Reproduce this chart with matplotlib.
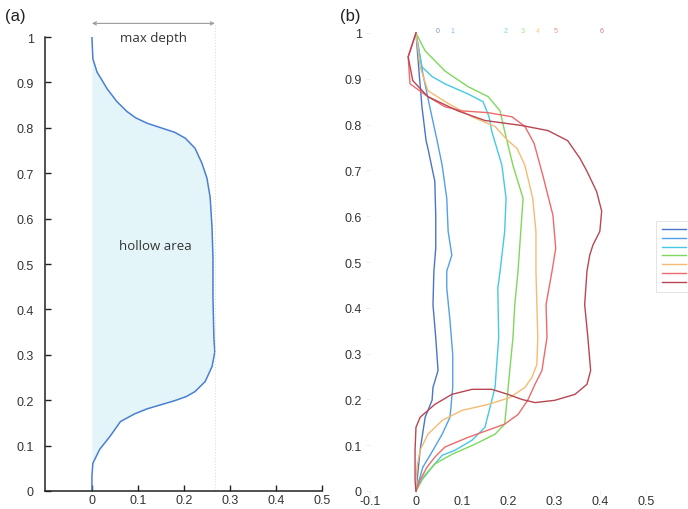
import numpy as np
import matplotlib
matplotlib.use("Agg")
import matplotlib.pyplot as plt

plt.rcParams['font.family'] = ['Liberation Sans', 'DejaVu Sans']

# ---- panel (a): a single hollow profile (depth vs. normalised height) ----
profile_height = [1.0, 0.952, 0.923, 0.886, 0.858, 0.836, 0.822, 0.810, 0.800, 0.790,
                  0.777, 0.755, 0.722, 0.689, 0.646, 0.580, 0.514, 0.427, 0.339, 0.306,
                  0.274, 0.241, 0.219, 0.208, 0.199, 0.190, 0.181, 0.170, 0.153, 0.120,
                  0.092, 0.061, 0.033, 0.0]
profile_depth = [0.0, 0.002, 0.011, 0.033, 0.054, 0.076, 0.095, 0.120, 0.150, 0.180,
                 0.203, 0.224, 0.239, 0.250, 0.257, 0.261, 0.263, 0.263, 0.265, 0.267,
                 0.261, 0.246, 0.224, 0.205, 0.180, 0.150, 0.120, 0.093, 0.062, 0.039,
                 0.017, 0.002, 0.0, 0.0]

# ---- panel (b): profiles 0..6 ----
series_names = ["0", "1", "2", "3", "4", "5", "6"]
series_colors = ["#4a74c9", "#52a0e6", "#46c8e4", "#7fd85c", "#f6bb72", "#ee6a6a", "#b94652"]

depth_0 = [0.0, 0.007, 0.013, 0.022, 0.026, 0.041, 0.043, 0.043, 0.039, 0.037, 0.043,
           0.048, 0.037, 0.035, 0.020, 0.009, 0.0]
height_0 = [1.0, 0.911, 0.839, 0.765, 0.748, 0.676, 0.602, 0.530, 0.480, 0.407, 0.335,
            0.263, 0.226, 0.198, 0.161, 0.089, 0.0]

depth_1 = [0.0, 0.015, 0.030, 0.046, 0.057, 0.067, 0.070, 0.078, 0.067, 0.067, 0.074,
           0.080, 0.080, 0.074, 0.057, 0.037, 0.015, 0.0]
height_1 = [1.0, 0.911, 0.839, 0.765, 0.711, 0.639, 0.567, 0.515, 0.480, 0.443, 0.372,
            0.298, 0.226, 0.161, 0.124, 0.089, 0.052, 0.0]

depth_2 = [0.0, 0.013, 0.035, 0.063, 0.113, 0.146, 0.159, 0.165, 0.187, 0.196, 0.193,
           0.183, 0.178, 0.180, 0.172, 0.150, 0.122, 0.085, 0.057, 0.035, 0.013, 0.0]
height_2 = [1.0, 0.926, 0.905, 0.889, 0.867, 0.850, 0.817, 0.785, 0.711, 0.639, 0.567,
            0.480, 0.443, 0.335, 0.226, 0.139, 0.111, 0.089, 0.078, 0.052, 0.024, 0.0]

depth_3 = [0.0, 0.020, 0.063, 0.113, 0.157, 0.183, 0.193, 0.211, 0.233, 0.228, 0.222,
           0.215, 0.211, 0.204, 0.198, 0.193, 0.172, 0.128, 0.078, 0.041, 0.015, 0.0]
height_3 = [1.0, 0.961, 0.917, 0.883, 0.861, 0.830, 0.785, 0.711, 0.639, 0.567, 0.480,
            0.407, 0.335, 0.263, 0.198, 0.146, 0.124, 0.102, 0.080, 0.059, 0.030, 0.0]

depth_4 = [0.0, 0.009, 0.026, 0.067, 0.122, 0.172, 0.200, 0.220, 0.237, 0.254, 0.261,
           0.261, 0.265, 0.263, 0.252, 0.237, 0.204, 0.157, 0.100, 0.057, 0.026, 0.009,
           0.002, 0.0]
height_4 = [1.0, 0.926, 0.874, 0.848, 0.817, 0.796, 0.765, 0.748, 0.711, 0.639, 0.567,
            0.480, 0.335, 0.276, 0.248, 0.226, 0.204, 0.189, 0.176, 0.154, 0.124, 0.089,
            0.052, 0.0]

depth_5 = [0.0, -0.017, -0.013, 0.026, 0.063, 0.100, 0.157, 0.209, 0.237, 0.257, 0.276,
           0.298, 0.304, 0.296, 0.283, 0.285, 0.274, 0.259, 0.243, 0.222, 0.193, 0.157,
           0.113, 0.063, 0.041, 0.024, 0.009, 0.0]
height_5 = [1.0, 0.948, 0.889, 0.861, 0.839, 0.830, 0.826, 0.817, 0.796, 0.759, 0.689,
            0.602, 0.530, 0.480, 0.407, 0.335, 0.263, 0.233, 0.198, 0.167, 0.146, 0.133,
            0.117, 0.096, 0.074, 0.052, 0.024, 0.0]

depth_6 = [0.0, -0.017, -0.007, 0.026, 0.091, 0.150, 0.230, 0.287, 0.330, 0.357, 0.372,
           0.393, 0.404, 0.400, 0.385, 0.378, 0.372, 0.367, 0.374, 0.380, 0.372, 0.346,
           0.302, 0.259, 0.230, 0.200, 0.165, 0.122, 0.078, 0.041, 0.009, 0.0, -0.002,
           -0.002, 0.0]
height_6 = [1.0, 0.948, 0.896, 0.861, 0.830, 0.809, 0.798, 0.787, 0.765, 0.726, 0.698,
            0.654, 0.611, 0.567, 0.537, 0.515, 0.480, 0.407, 0.335, 0.263, 0.233, 0.211,
            0.198, 0.193, 0.200, 0.211, 0.222, 0.222, 0.211, 0.189, 0.161, 0.139, 0.089,
            0.024, 0.0]

depths = [depth_0, depth_1, depth_2, depth_3, depth_4, depth_5, depth_6]
heights = [height_0, height_1, height_2, height_3, height_4, height_5, height_6]

y_ticks = [0, 0.1, 0.2, 0.3, 0.4, 0.5, 0.6, 0.7, 0.8, 0.9, 1]
y_tick_labels = ["0", "0.1", "0.2", "0.3", "0.4", "0.5", "0.6", "0.7", "0.8", "0.9", "1"]
xa_ticks = [0, 0.1, 0.2, 0.3, 0.4, 0.5]
xa_tick_labels = ["0", "0.1", "0.2", "0.3", "0.4", "0.5"]
xb_ticks = [-0.1, 0, 0.1, 0.2, 0.3, 0.4, 0.5]
xb_tick_labels = ["-0.1", "0", "0.1", "0.2", "0.3", "0.4", "0.5"]

W, H = 688, 510
fig = plt.figure(figsize=(W / 100, H / 100), dpi=100)

text_col = "#333333"

# ================= panel (a) =================
axa = fig.add_axes([45 / W, (H - 492) / H, 277 / W, 454 / H])
axa.set_xlim(-0.102, 0.5)
axa.set_ylim(0, 1)
axa.fill_betweenx(profile_height, 0, profile_depth, color="#e3f5f8", lw=0)
axa.plot(profile_depth, profile_height, color="#4a7fd4", lw=1.1,
         solid_joinstyle="round")

max_depth = max(profile_depth)
axa.plot([max_depth, max_depth], [0, 1.03], color="#dddddd", lw=0.8, ls=":",
         clip_on=False)
axa.annotate("", xy=(0, 1.03), xytext=(max_depth, 1.03),
             arrowprops=dict(arrowstyle="<->", color="#9a9a9a", lw=0.8,
                             shrinkA=0, shrinkB=0, mutation_scale=6),
             annotation_clip=False)
axa.text(max_depth / 2, 1.0, "max depth", ha="center", va="center", fontsize=9.5,
         color=text_col, family=["Open Sans", "DejaVu Sans"])
axa.text(max_depth / 2 + 0.005, 0.54, "hollow area", ha="center", va="center",
         fontsize=9.5, color=text_col, family=["Open Sans", "DejaVu Sans"])

for side in ("top", "right"):
    axa.spines[side].set_visible(False)
for side in ("left", "bottom"):
    axa.spines[side].set_color("#222222")
    axa.spines[side].set_linewidth(1.1)
axa.set_xticks(xa_ticks, xa_tick_labels)
axa.set_yticks(y_ticks, y_tick_labels)
axa.tick_params(axis="both", direction="in", length=4, width=1, color="#222222",
                labelsize=9, labelcolor=text_col)
axa.tick_params(axis="y", pad=8)
axa.tick_params(axis="x", pad=2)

# ================= panel (b) =================
axb = fig.add_axes([370 / W, (H - 492) / H, 285 / W, 458 / H])
axb.set_xlim(-0.1, 0.52)
axb.set_ylim(0, 1)
lines = []
for name, col, d, h in zip(series_names, series_colors, depths, heights):
    ln, = axb.plot(d, h, color=col, lw=1.0, label=name, solid_joinstyle="round",
                   clip_on=False)
    lines.append(ln)
    axb.text(max(d), 1.006, name, color=col, fontsize=5, ha="center", va="center",
             alpha=0.75)

for side in axb.spines:
    axb.spines[side].set_visible(False)
axb.set_xticks(xb_ticks, xb_tick_labels)
axb.set_yticks(y_ticks, y_tick_labels)
axb.tick_params(axis="both", direction="out", length=3, width=0.8, color="#eeeeee",
                labelsize=9, labelcolor=text_col)
axb.tick_params(axis="y", pad=3)
axb.tick_params(axis="x", pad=0)

# legend sits at the right edge; only the line samples fit on the canvas
leg = fig.legend(handles=lines, loc="upper left",
                 bbox_to_anchor=(656 / W, 1 - 222 / H), bbox_transform=fig.transFigure,
                 fontsize=5, labelspacing=0.25, handlelength=3.5, borderpad=0.8,
                 borderaxespad=0, fancybox=False, frameon=True)
leg.get_frame().set_edgecolor("#d8d8d8")
leg.get_frame().set_linewidth(0.6)
for t in leg.get_texts():
    t.set_visible(False)

fig.text(5 / W, 1 - 17 / H, "(a)", fontsize=12, color="#222222", va="center")
fig.text(340 / W, 1 - 17 / H, "(b)", fontsize=12, color="#222222", va="center")

fig.savefig("out.png", dpi=100)
